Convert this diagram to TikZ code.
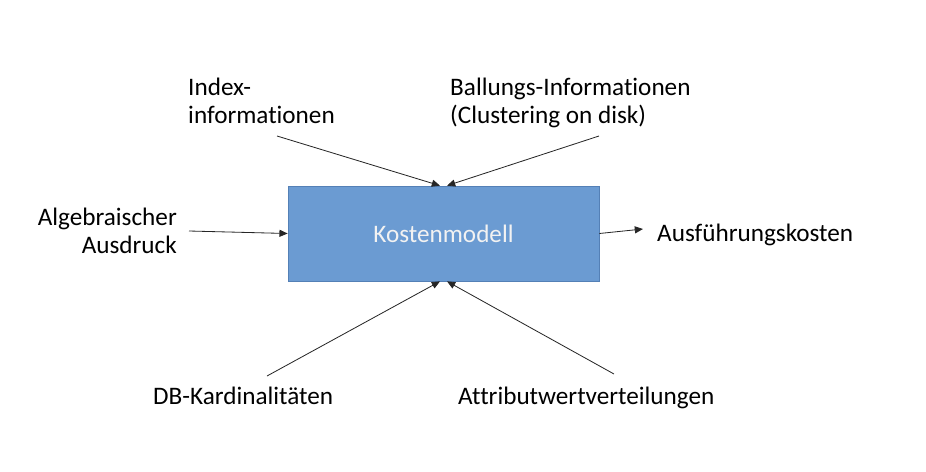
\documentclass[tikz,border=0pt]{standalone}
\usepackage{fontspec}
\setmainfont{Carlito}[Ligatures=NoCommon]
\usepackage{tikz}
\usetikzlibrary{arrows.meta}
\definecolor{boxblau}{RGB}{107,155,210}
\definecolor{boxrand}{RGB}{84,128,182}
\tikzset{
    lbl/.style={inner sep=0pt, font=\fontsize{21.5}{23.8}\selectfont},
    pfeil/.style={draw=black!85, line width=0.7pt, -{Triangle[length=7pt,width=6pt]}}
}

\begin{document}
\begin{tikzpicture}[x=0.03cm, y=-0.03cm]
            \useasboundingbox (0,0) rectangle (926,471);
            \node [draw=boxrand, fill=boxblau, line width=0.6pt, minimum width=9.33cm, minimum height=2.85cm,
                   inner sep=0pt, font=\fontsize{21.5}{24}\selectfont, text=white!95!black] (km) at (443.5,233.5) {Kostenmodell};
            \node [lbl, align=left, anchor=base west] (idx) at (188,123) {Index-\\informationen};
            \node [lbl, align=left, anchor=base west] (ball) at (450,123) {Ballungs-Informationen\\(Clustering on disk)};
            \node [lbl, align=right, anchor=base east] (alg) at (177,253) {Algebraischer\\Ausdruck};
            \node [lbl, anchor=base west] (aus) at (657,241) {Ausführungskosten};
            \node [lbl, anchor=base west] (db) at (153,404) {DB-Kardinalitäten};
            \node [lbl, anchor=base west] (attr) at (458,404) {Attributwertverteilungen};
            \coordinate (idxa) at (277,136);
            \coordinate (balla) at (599,136);
            \coordinate (alga) at (189,231);
            \coordinate (ause) at (643,229);
            \coordinate (dba) at (267,376);
            \coordinate (attra) at (614,374);
            \draw [pfeil] (idxa) -- ([xshift=-3pt]km.north);
            \draw [pfeil] (balla) -- ([xshift=3pt]km.north);
            \draw [pfeil] (alga) -- (km.west);
            \draw [pfeil] (km.east) -- (ause);
            \draw [pfeil] (dba) -- ([xshift=-3pt]km.south);
            \draw [pfeil] (attra) -- ([xshift=3pt]km.south);
        \end{tikzpicture}
\end{document}
